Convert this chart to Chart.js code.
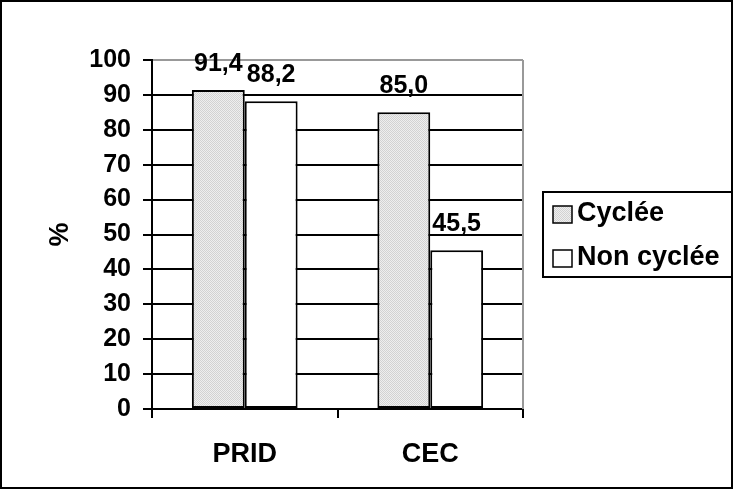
<!DOCTYPE html>
<html>
<head>
<meta charset="utf-8">
<script src="https://cdn.jsdelivr.net/npm/chart.js@4/dist/chart.umd.min.js"></script>
<style>
  html, body { margin: 0; padding: 0; background: #fff; }
  canvas { display: block; }
</style>
</head>
<body>
<canvas id="chart" width="733" height="489"></canvas>
<script>
const categories = ['PRID', 'CEC'];
const seriesNames = ['Cyclée', 'Non cyclée'];
const cyclee = [91.4, 85.0];
const nonCyclee = [88.2, 45.5];
const yTicks = [0, 10, 20, 30, 40, 50, 60, 70, 80, 90, 100];

const FONT = '"Liberation Sans", Arial, sans-serif';

// light gray stipple like the old Excel fill
function stipple() {
  const c = document.createElement('canvas');
  c.width = 2; c.height = 2;
  const g = c.getContext('2d');
  g.fillStyle = '#eeeeee';
  g.fillRect(0, 0, 2, 2);
  g.fillStyle = '#d2d2d2';
  g.fillRect(0, 0, 1, 1);
  g.fillRect(1, 1, 1, 1);
  return g.createPattern(c, 'repeat');
}
const grayFill = stipple();
const fills = [grayFill, '#ffffff'];

const extras = {
  id: 'extras',
  afterDatasetsDraw(chart) {
    const ctx = chart.ctx;
    const area = chart.chartArea;
    ctx.save();
    // gray plot border on the right
    ctx.strokeStyle = '#999';
    ctx.lineWidth = 2;
    ctx.beginPath();
    ctx.moveTo(area.right, area.top);
    ctx.lineTo(area.right, area.bottom);
    ctx.stroke();

    // value labels
    ctx.fillStyle = '#000';
    ctx.font = 'bold 25px ' + FONT;
    ctx.textAlign = 'center';
    ctx.textBaseline = 'alphabetic';
    chart.data.datasets.forEach((ds, i) => {
      chart.getDatasetMeta(i).data.forEach((bar, j) => {
        const txt = ds.data[j].toFixed(1).replace('.', ',');
        ctx.fillText(txt, bar.x, bar.y - 19);
      });
    });
    ctx.restore();
  },
  afterDraw(chart) {
    const ctx = chart.ctx;
    ctx.save();
    // legend box
    ctx.strokeStyle = '#000';
    ctx.lineWidth = 2;
    ctx.strokeRect(543, 192, 190, 85);
    ctx.font = 'bold 27px ' + FONT;
    ctx.textBaseline = 'middle';
    ctx.textAlign = 'left';
    seriesNames.forEach((name, i) => {
      const y = 214 + i * 44;
      ctx.fillStyle = fills[i];
      ctx.fillRect(553, y - 8, 19, 17);
      ctx.lineWidth = 1.5;
      ctx.strokeRect(553, y - 8, 19, 17);
      ctx.fillStyle = '#000';
      ctx.fillText(name, 577, y);
    });
    // outer frame
    ctx.lineWidth = 2;
    ctx.strokeRect(1, 1, 731, 487);
    ctx.restore();
  }
};

new Chart(document.getElementById('chart'), {
  type: 'bar',
  data: {
    labels: categories,
    datasets: [
      { label: seriesNames[0], data: cyclee, backgroundColor: fills[0] },
      { label: seriesNames[1], data: nonCyclee, backgroundColor: fills[1] }
    ].map(d => Object.assign(d, {
      borderColor: '#000',
      borderWidth: 2,
      borderSkipped: false,
      categoryPercentage: 0.57,
      barPercentage: 1.0
    }))
  },
  options: {
    responsive: false,
    animation: false,
    layout: { padding: { left: 40, top: 60, right: 210, bottom: 10 } },
    plugins: { legend: { display: false }, tooltip: { enabled: false } },
    scales: {
      x: {
        afterFit: s => { s.height = 70; },
        grid: { drawOnChartArea: false, color: '#000', lineWidth: 2, tickLength: 9 },
        border: { color: '#000', width: 2 },
        ticks: { color: '#000', padding: 20, font: { family: FONT, size: 27, weight: 'bold' } }
      },
      y: {
        min: 0,
        max: 100,
        afterFit: s => { s.width = 112; },
        afterBuildTicks: s => { s.ticks = yTicks.map(v => ({ value: v })); },
        grid: {
          color: c => (c.tick && c.tick.value === 100 ? '#999' : '#000'),
          tickColor: '#000',
          lineWidth: 2,
          tickLength: 9
        },
        border: { color: '#000', width: 2 },
        ticks: { color: '#000', padding: 12, font: { family: FONT, size: 25, weight: 'bold' } },
        title: {
          display: true,
          text: '%',
          color: '#000',
          padding: { top: 4, bottom: 0 },
          font: { family: FONT, size: 27, weight: 'bold' }
        }
      }
    }
  },
  plugins: [extras]
});
</script>
</body>
</html>
